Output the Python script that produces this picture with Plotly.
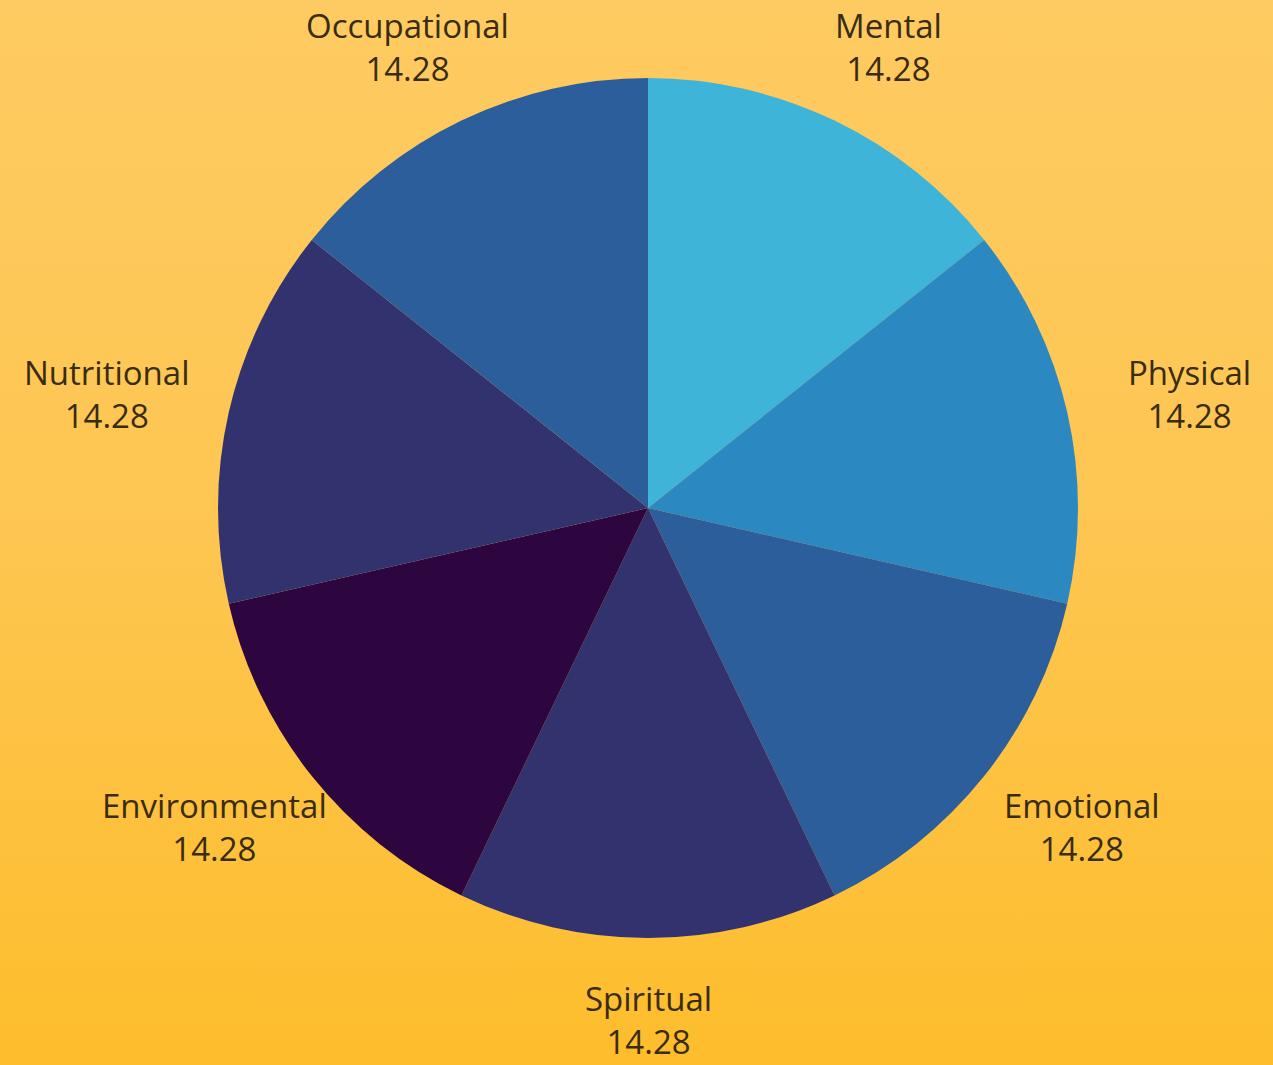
import math
import plotly.graph_objects as go

categories = ["Mental", "Physical", "Emotional", "Spiritual", "Environmental", "Nutritional", "Occupational"]
values = [14.28, 14.28, 14.28, 14.28, 14.28, 14.28, 14.28]
colors = ["#3DB4D8", "#2B88C0", "#2B5E9A", "#32326F", "#2D0640", "#32326F", "#2B5E9A"]

W, H = 1273, 1065
CX, CY = 648, 508          # pie centre in px (from top-left)
R = 430                     # pie radius in px
LRX, LRY = 555, 512         # label ellipse radii in px

fig = go.Figure()

# background gradient
fig.add_trace(go.Scatter(
    x=[-1, 2, 2, -1, -1], y=[0, 0, 1, 1, 0], mode="lines", fill="toself",
    line=dict(width=0),
    fillgradient=dict(type="vertical", colorscale=[[0, "#FDBD2C"], [0.5, "#FEC651"], [1, "#FECB62"]]),
    hoverinfo="skip", showlegend=False,
))

yc = 1 - CY / H
ry = R / H
xc = CX / W
fig.add_trace(go.Pie(
    labels=categories, values=values, sort=False, direction="clockwise", rotation=0,
    marker=dict(colors=colors, line=dict(width=0)),
    textinfo="none",
    domain=dict(x=[xc - 0.4, xc + 0.4], y=[yc - ry, yc + ry]),
    showlegend=False, hoverinfo="label+value",
))

# labels placed at each slice's middle angle, derived from the values
total = sum(values)
cum = 0.0
annotations = []
for lab, v in zip(categories, values):
    mid = (cum + v / 2) / total * 2 * math.pi
    cum += v
    px = CX + LRX * math.sin(mid)
    py = CY - LRY * math.cos(mid)
    annotations.append(dict(
        x=px / W, y=1 - py / H, xref="paper", yref="paper",
        text=f"{lab}<br>{v:.2f}", showarrow=False, align="center",
        xanchor="center", yanchor="middle",
        font=dict(family="Open Sans", size=33, color="#3A2C12"),
    ))

fig.update_layout(
    width=W, height=H, margin=dict(l=0, r=0, t=0, b=0),
    paper_bgcolor="#FEC651", plot_bgcolor="rgba(0,0,0,0)",
    xaxis=dict(visible=False, range=[0, 1], domain=[0, 1], fixedrange=True),
    yaxis=dict(visible=False, range=[0, 1], domain=[0, 1], fixedrange=True),
    annotations=annotations,
)

fig.write_html("out.html", config={"displayModeBar": False},
               post_script="document.body.style.margin='0px';document.body.style.overflow='hidden';")
